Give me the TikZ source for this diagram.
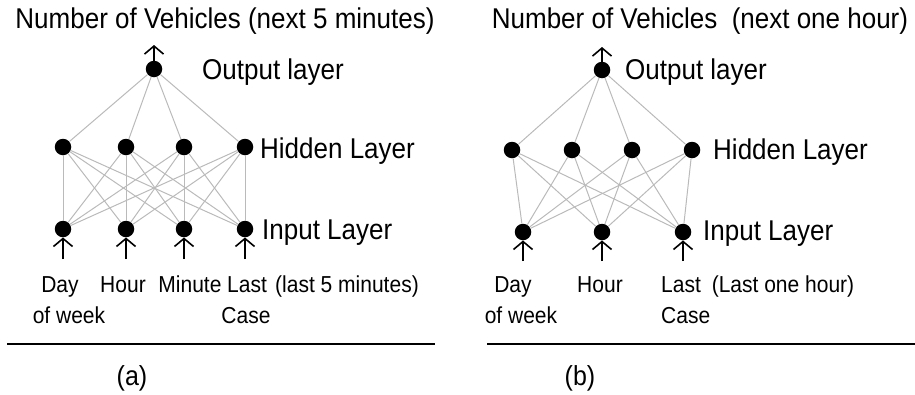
\documentclass[tikz,border=0pt]{standalone}
\usepackage{fontspec}
\usepackage{graphicx}
\setmainfont{Liberation Sans}
\usetikzlibrary{arrows.meta}

% the lettering is slightly taller than plain Liberation Sans
\newcommand{\tallt}[1]{\scalebox{1}[1.1]{#1}}

\tikzset{
  neuron/.style={circle, fill=black, inner sep=0pt, minimum size=16.5pt},
  conn/.style={draw=black!27, line width=1pt},
  arr/.style={draw=black, line width=1.7pt, -{Straight Barb[length=8pt,width=19pt,line width=1.6pt]}},
  rule/.style={draw=black, line width=1.8pt},
  title/.style={font=\fontsize{26}{28}\selectfont, inner sep=0pt},
  layer/.style={font=\fontsize{26}{28}\selectfont, inner sep=0pt, anchor=west},
  inlabel/.style={font=\fontsize{21}{23}\selectfont, inner sep=0pt, anchor=base},
  caption/.style={font=\fontsize{25}{27}\selectfont, inner sep=0pt}
}

\begin{document}
\begin{tikzpicture}[x=1pt,y=-1pt]
\useasboundingbox (0,0) rectangle (915,394);

% ---------------- network (a): 4 inputs, 4 hidden, 1 output ----------------
\node[title] (a-title) at (225,21) {\tallt{Number of Vehicles (next 5 minutes)}};

\node[neuron] (a-o) at (154,69) {};
\foreach \i/\x in {1/63,2/126,3/184,4/245} {
  \node[neuron] (a-h\i) at (\x,147) {};
  \node[neuron] (a-i\i) at (\x,229) {};
  \coordinate (a-s\i) at (\x,259);
}
\coordinate (a-top) at (154,45);

\foreach \h in {1,...,4} {
  \draw[conn] (a-o) -- (a-h\h);
  \foreach \i in {1,...,4} \draw[conn] (a-h\h) -- (a-i\i);
}
\foreach \i in {1,...,4} \draw[arr] (a-s\i) -- (a-i\i);
\draw[arr] (a-o) -- (a-top);

\node[layer] (a-lo) at (202,72) {\tallt{Output layer}};
\node[layer] (a-lh) at (260,151) {\tallt{Hidden Layer}};
\node[layer] (a-li) at (262,233) {\tallt{Input Layer}};

\node[inlabel] (a-day)   at (60,292)  {\tallt{Day}};
\node[inlabel] (a-week)  at (69,323)  {\tallt{of week}};
\node[inlabel] (a-hour)  at (123,292) {\tallt{Hour}};
\node[inlabel] (a-min)   at (190,292) {\tallt{Minute}};
\node[inlabel] (a-last)  at (247,292) {\tallt{Last}};
\node[inlabel] (a-case)  at (246,323) {\tallt{Case}};
\node[inlabel] (a-5min)  at (347,292) {\tallt{(last 5 minutes)}};

\coordinate (a-r1) at (7,344);
\coordinate (a-r2) at (435,344);
\draw[rule] (a-r1) -- (a-r2);
\node[caption] (a-cap) at (132,378) {\tallt{(a)}};

% ---------------- network (b): 3 inputs, 4 hidden, 1 output ----------------
\node[title] (b-title) at (700,21) {\tallt{Number of Vehicles\ \ (next one hour)}};

\node[neuron] (b-o) at (602,70) {};
\foreach \i/\x in {1/512,2/572,3/632,4/692} \node[neuron] (b-h\i) at (\x,150) {};
\foreach \i/\x in {1/523,2/602,3/683} {
  \node[neuron] (b-i\i) at (\x,232) {};
  \coordinate (b-s\i) at (\x,261);
}
\coordinate (b-top) at (602,47);

\foreach \h in {1,...,4} {
  \draw[conn] (b-o) -- (b-h\h);
  \foreach \i in {1,...,3} \draw[conn] (b-h\h) -- (b-i\i);
}
\foreach \i in {1,...,3} \draw[arr] (b-s\i) -- (b-i\i);
\draw[arr] (b-o) -- (b-top);

\node[layer] (b-lo) at (625,72) {\tallt{Output layer}};
\node[layer] (b-lh) at (713,152) {\tallt{Hidden Layer}};
\node[layer] (b-li) at (703,234) {\tallt{Input Layer}};

\node[inlabel] (b-day)  at (513,292) {\tallt{Day}};
\node[inlabel] (b-week) at (521,323) {\tallt{of week}};
\node[inlabel] (b-hour) at (600,292) {\tallt{Hour}};
\node[inlabel, anchor=base west] (b-last) at (661,292) {\tallt{Last}};
\node[inlabel, anchor=base west] (b-case) at (661,323) {\tallt{Case}};
\node[inlabel] (b-1h)   at (783,292) {\tallt{(Last one hour)}};

\coordinate (b-r1) at (487,344);
\coordinate (b-r2) at (915,344);
\draw[rule] (b-r1) -- (b-r2);
\node[caption] (b-cap) at (580,378) {\tallt{(b)}};
\end{tikzpicture}
\end{document}
